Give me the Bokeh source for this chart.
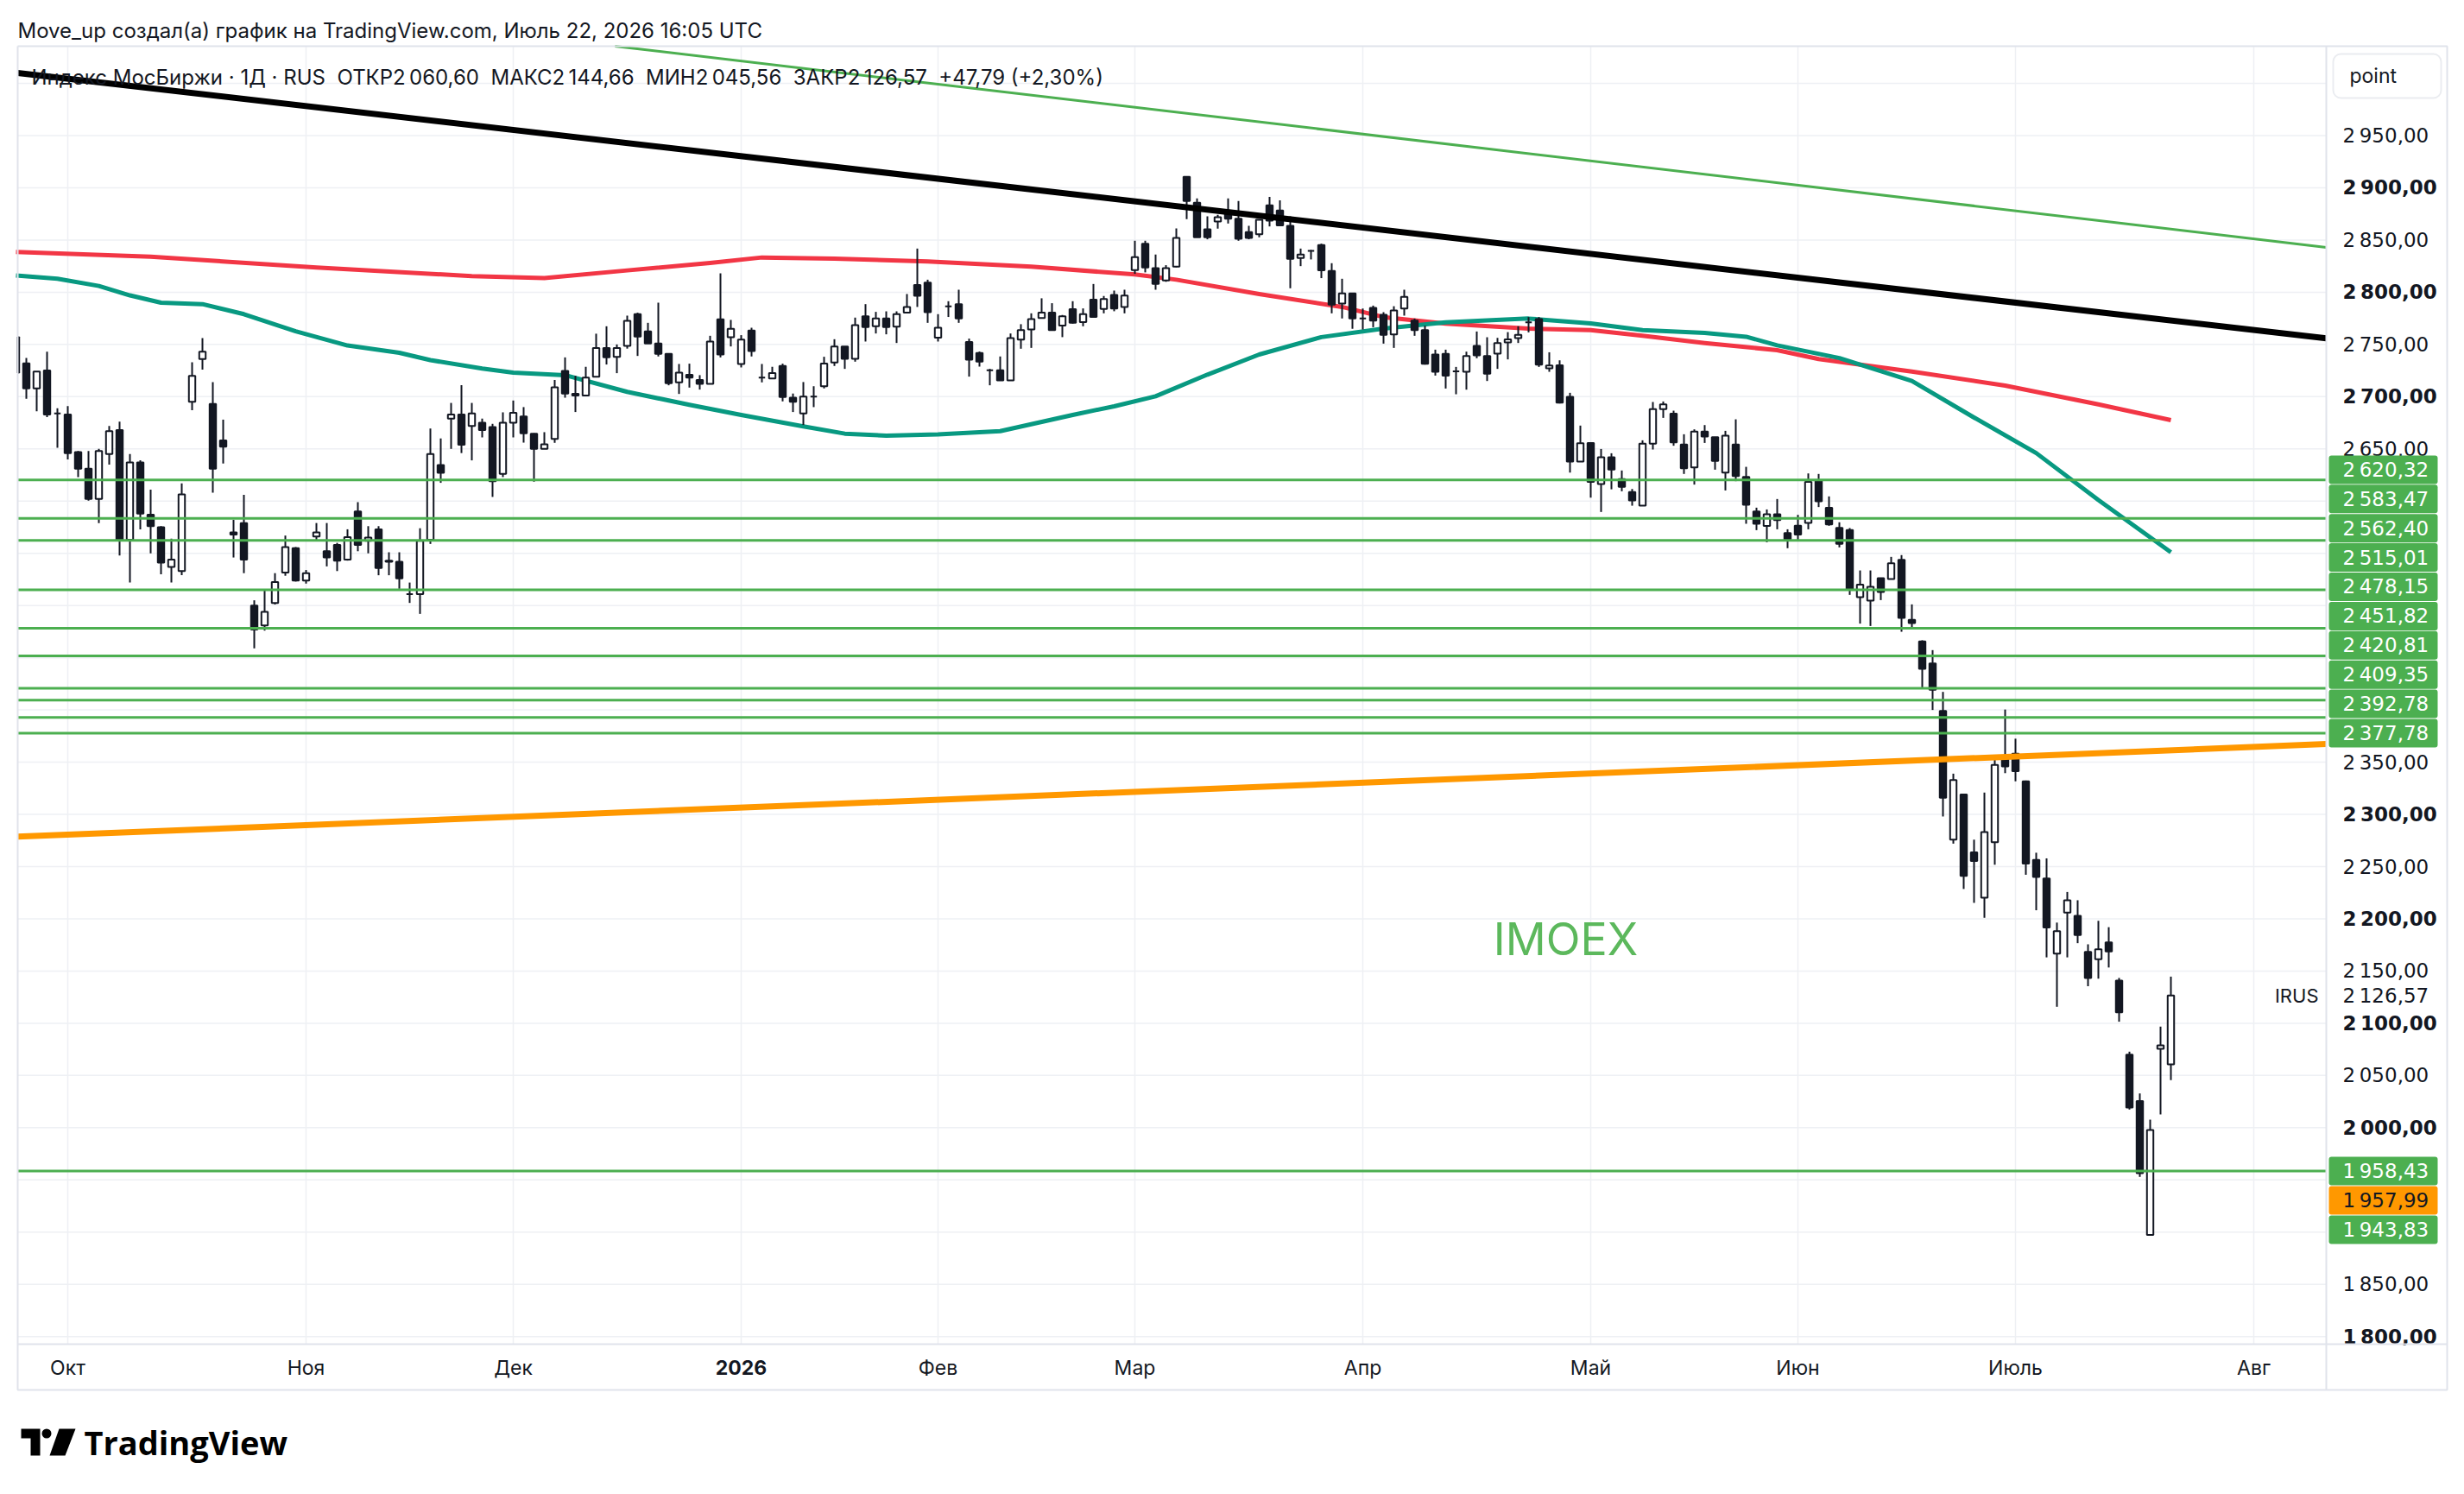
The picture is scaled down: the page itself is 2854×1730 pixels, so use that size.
import numpy as np
from bokeh.plotting import figure
from bokeh.models import Range1d
from bokeh.core.properties import value
from bokeh.embed import file_html
from bokeh.resources import INLINE

# ------------------------------------------------------------------ data
# daily candles (bar index 0 = 24 Sep 2025 ... 208 = 22 Jul 2026)
opens = [2757, 2732, 2708, 2725, 2684, 2683, 2647, 2631, 2602, 2645,
         2668, 2563, 2637, 2587, 2575, 2537, 2533, 2695, 2736, 2693,
         2658, 2570, 2579, 2500, 2481, 2502.5, 2531.5, 2555, 2524, 2566,
         2552, 2558, 2544, 2590, 2562, 2573, 2543, 2542, 2511, 2511,
         2563, 2634.5, 2679, 2683, 2672, 2675, 2671, 2626, 2675, 2681,
         2664.6, 2650, 2659.6, 2724.7, 2702.7, 2701, 2719, 2746.5, 2738, 2748.7,
         2779, 2762.5, 2750.9, 2741, 2713.7, 2721, 2716, 2712.3, 2774, 2757,
         2731.3, 2763.3, 2718.3, 2717.5, 2729.4, 2699, 2684, 2700, 2710, 2732.7,
         2748.1, 2736.3, 2777, 2767.4, 2774.9, 2767.1, 2780.4, 2807, 2809.3, 2756.4,
         2786.4, 2788.6, 2752.3, 2741.8, 2725.3, 2725.3, 2715.6, 2754.7, 2764.4, 2775.4,
         2780.4, 2768, 2783.7, 2771.3, 2792.8, 2784, 2797.5, 2785.9, 2821.2, 2846.5,
         2823.1, 2811.3, 2824.5, 2910.5, 2885.7, 2860.3, 2867.8, 2875.5, 2870.5, 2857.6,
         2855.6, 2883.2, 2878.2, 2863.6, 2832.7, 2839.6, 2845.2, 2820.3, 2789.2, 2798.8,
         2774.8, 2785, 2778.4, 2759.6, 2784.4, 2772.9, 2763.8, 2740.3, 2740.9, 2724.3,
         2723.8, 2748.6, 2739, 2741.2, 2751.9, 2756.1, 2771.2, 2774.2, 2727.1, 2730.1,
         2699.8, 2637.8, 2655.7, 2616.3, 2641.9, 2621, 2608.6, 2595.6, 2654.9, 2688,
         2683.8, 2654.1, 2632.3, 2666.5, 2661.2, 2627.3, 2654.1, 2623.2, 2590.1, 2576.3,
         2587.4, 2569.5, 2576.4, 2579.1, 2619.6, 2593.5, 2574.4, 2572.2, 2508, 2504.7,
         2526.2, 2525.4, 2543.8, 2486.2, 2465.6, 2444.6, 2399.1, 2275.9, 2319.1, 2263.6,
         2220.3, 2273.3, 2354.9, 2358.2, 2331.7, 2256.5, 2238.6, 2166.6, 2206, 2202.8,
         2168.4, 2161.3, 2177.4, 2140.9, 2070, 2025.6, 1897.4, 2075.5, 2060.6]
highs = [2762, 2737, 2724, 2743, 2689, 2691, 2648, 2648, 2650, 2672,
         2676, 2645, 2639, 2611, 2576, 2564, 2617, 2733, 2756, 2714,
         2678, 2582, 2606, 2505, 2515, 2531, 2567, 2556, 2534, 2579,
         2579, 2560, 2573, 2599, 2576, 2576, 2551, 2551, 2522, 2574,
         2669.5, 2660, 2694, 2711, 2694, 2679, 2674, 2685, 2696.3, 2690,
         2665, 2666, 2716, 2737.6, 2720, 2728.6, 2760.3, 2767.4, 2750, 2777.6,
         2780.4, 2770.7, 2790, 2741, 2731.3, 2731.6, 2720.6, 2758.3, 2818.1, 2773.5,
         2758.9, 2766, 2731.3, 2728.6, 2731.6, 2703, 2714, 2710, 2738.2, 2755,
         2748.1, 2775.7, 2788.6, 2781.2, 2781.7, 2781.7, 2798.3, 2841.8, 2812, 2779,
         2791.4, 2802.4, 2755.6, 2743.2, 2726.6, 2738.5, 2760.5, 2769.4, 2779.8, 2794.2,
         2789.5, 2778.2, 2791.4, 2784.5, 2807.9, 2796.4, 2801.6, 2802.4, 2849.3, 2849.3,
         2836.1, 2825.9, 2861.1, 2910.5, 2889.8, 2872.7, 2874.1, 2889.8, 2887.3, 2863.6,
         2869.4, 2891.2, 2887.9, 2872.7, 2841.8, 2840.5, 2846.5, 2827.8, 2812.9, 2798.8,
         2784.4, 2787.2, 2780.9, 2786.6, 2802.4, 2774.8, 2767.9, 2745, 2745, 2728.5,
         2743.1, 2762.4, 2756.9, 2756.3, 2761.8, 2767.4, 2776.2, 2776.2, 2742.5, 2734.8,
         2703.7, 2672.3, 2655.7, 2649.9, 2645.8, 2629.3, 2611.6, 2658.2, 2694.9, 2695.4,
         2686.6, 2664, 2668.7, 2672.8, 2661.2, 2667.3, 2678.3, 2632.8, 2593.7, 2592,
         2602, 2573, 2586.8, 2626.5, 2626, 2604.5, 2579.7, 2574.2, 2533.6, 2533.6,
         2526.2, 2546.6, 2548.3, 2501.1, 2466.7, 2457.3, 2417.3, 2339, 2319.1, 2275.8,
         2320.9, 2356.7, 2400.4, 2372.5, 2332.4, 2263.3, 2257.9, 2196.4, 2225.7, 2217.8,
         2175.6, 2198.1, 2192, 2143.4, 2072.8, 2032.8, 2007.7, 2096.8, 2144.66]
lows = [2718, 2698, 2686, 2680.5, 2651, 2640, 2623, 2600.5, 2579, 2635,
        2548, 2522, 2573, 2550, 2530, 2522, 2529, 2687, 2726, 2608,
        2636, 2546, 2531, 2459, 2476, 2501, 2528.5, 2523, 2521, 2562,
        2537.5, 2533, 2543, 2552, 2550, 2529, 2529, 2516, 2502.5, 2492,
        2559, 2617.5, 2650, 2646, 2639, 2661, 2604, 2623, 2661, 2656,
        2618.6, 2650, 2655.8, 2699, 2685.3, 2700.5, 2719, 2730.8, 2722.5, 2746,
        2739, 2750.9, 2738.5, 2710.9, 2702.6, 2708.7, 2706.8, 2712.3, 2737.6, 2748.1,
        2728, 2738.5, 2713.7, 2717.5, 2695.5, 2685.3, 2672.9, 2690, 2707.9, 2729.4,
        2726.6, 2733.5, 2752.8, 2760.5, 2759.7, 2751.4, 2780.4, 2785.9, 2770.7, 2752.8,
        2776.3, 2770.7, 2719.2, 2728.8, 2710.9, 2715.6, 2715.6, 2745.9, 2746.7, 2775.4,
        2763.8, 2757, 2770, 2767.4, 2776.3, 2779.8, 2781.8, 2779.8, 2817.6, 2819,
        2802.4, 2810, 2823.9, 2870, 2852.6, 2850.7, 2860.9, 2865.8, 2849.3, 2850.7,
        2852.6, 2863, 2863.9, 2803.8, 2825, 2831.4, 2813.5, 2779.8, 2774.9, 2765,
        2764.3, 2766.5, 2750.8, 2746.7, 2777.6, 2758.3, 2730.7, 2720.2, 2707.8, 2702.3,
        2706.7, 2736.8, 2715, 2726.6, 2735.7, 2751.4, 2761.6, 2728.5, 2723.8, 2693.5,
        2627.3, 2637.8, 2603.3, 2589.6, 2611.3, 2609.4, 2595.6, 2595.6, 2649.4, 2679.7,
        2653, 2626, 2615.8, 2655.7, 2630.1, 2610.2, 2619.1, 2578.3, 2572.2, 2560.6,
        2573, 2554.9, 2562, 2573, 2594.3, 2576.4, 2555.7, 2510.2, 2482.7, 2480.4,
        2505.2, 2525.4, 2474.9, 2477.7, 2421.4, 2400, 2298, 2272, 2228.6, 2215.3,
        2201, 2251.8, 2339.5, 2331.7, 2242.2, 2208.2, 2163.1, 2115.8, 2163.1, 2176.7,
        2135.5, 2142.7, 2153.4, 2101.5, 2017.4, 1952.9, 1897.4, 2012.7, 2045.56]
closes = [2723, 2708, 2724, 2683, 2684, 2646, 2631, 2602, 2648, 2667,
          2563, 2637, 2588, 2576, 2541, 2544, 2606.5, 2720, 2743, 2631,
          2652, 2568, 2544, 2477, 2494, 2522.5, 2556, 2524, 2531, 2570,
          2546, 2543, 2565.5, 2558, 2565, 2536, 2542, 2526, 2511, 2562,
          2645, 2627, 2683, 2654, 2684, 2668, 2619, 2675, 2684.5, 2665,
          2650, 2654.4, 2709, 2703, 2701, 2718.3, 2746.5, 2737.6, 2746.5, 2772.7,
          2757.5, 2750.9, 2741, 2712.8, 2723, 2718.3, 2712.3, 2752.8, 2740.4, 2764.9,
          2754.7, 2743.7, 2718.3, 2722.5, 2699.6, 2695, 2700, 2700, 2731.6, 2748.1,
          2736.3, 2768.5, 2766.6, 2774.9, 2766.6, 2779, 2785.9, 2796.6, 2780.9, 2766,
          2786.4, 2774.9, 2735.5, 2733.5, 2725.3, 2715.6, 2756.1, 2763.8, 2774.3, 2780.4,
          2763.8, 2777, 2770.7, 2779, 2776.3, 2793.6, 2784.5, 2796.9, 2833.6, 2823.7,
          2808, 2823.1, 2852, 2887.3, 2852.6, 2852.6, 2871.9, 2870.5, 2851.2, 2852,
          2869.4, 2868.6, 2863.9, 2831.9, 2836.1, 2839.6, 2820.9, 2788.1, 2798.9, 2774.8,
          2774.8, 2772.9, 2759.1, 2782.5, 2795.5, 2763.8, 2731.5, 2723.8, 2720.2, 2724.3,
          2739, 2739.5, 2721.9, 2751.4, 2754.9, 2759.1, 2771.2, 2730.7, 2729.9, 2694.3,
          2637.8, 2655.4, 2618.5, 2641.9, 2630.1, 2613.6, 2600.6, 2654.9, 2688, 2692.7,
          2656.3, 2631.5, 2666.5, 2661.8, 2638.4, 2662.6, 2624, 2596.5, 2578.3, 2587.4,
          2581.9, 2563.4, 2568, 2618.3, 2599.8, 2577.7, 2559, 2515.2, 2519.9, 2517.9,
          2513, 2540.5, 2488.2, 2483.2, 2439.4, 2419.3, 2316, 2333, 2241.1, 2255.4,
          2283, 2347.4, 2346, 2341.3, 2252.9, 2240, 2191.7, 2188.1, 2217.8, 2184.5,
          2143.4, 2170.9, 2168.8, 2110.4, 2019.2, 1956.5, 1997.7, 2078.78, 2126.57]

# moving averages (sampled along the bar axis)
ma_red_x = [0, 13, 29, 44, 51, 59, 67, 72, 79, 88, 98, 108, 112, 120, 128, 132,
            138, 146, 152, 157, 163, 170, 174, 183, 192, 201, 208]
ma_red_y = [2838.6, 2834, 2823.6, 2815.5, 2813.5, 2820.9, 2828, 2833.3, 2832.2,
            2829.4, 2824.5, 2817, 2812, 2798.3, 2785.9, 2776.2, 2770, 2765.1,
            2763.8, 2758.3, 2751.4, 2744.5, 2736, 2724, 2710.6, 2692.6, 2677.5]
ma_teal_x = [0, 4, 8, 11, 14, 18, 22, 27, 32, 37, 40, 45, 48, 53, 59, 65, 70, 76,
             80, 84, 89, 95, 102, 106, 110, 115, 120, 126, 132, 138, 146, 152, 157,
             163, 167, 170, 176, 183, 189, 195, 201, 208]
ma_teal_y = [2816, 2813, 2806, 2797, 2790, 2788.6, 2779, 2762.6, 2749, 2742, 2735,
             2727, 2723, 2720.6, 2704.6, 2692.2, 2682.5, 2671.5, 2664.6, 2662.7,
             2663.8, 2667, 2682.5, 2690.8, 2700.4, 2721.1, 2740.4, 2757, 2765.1,
             2771.2, 2774.8, 2770.1, 2763.8, 2761, 2757.4, 2749.2, 2737, 2715, 2680,
             2646, 2601, 2551]

# trend lines (two anchors each: bar index, price)
trend_black_x, trend_black_y = [0, 223], [3010.2, 2755.8]
trend_green_x, trend_green_y = [58.75, 223], [3034.5, 2843.0]
trend_orange_x, trend_orange_y = [0, 223], [2278.6, 2367.4]

# horizontal levels
levels_upper = [2620.32, 2583.47, 2562.40, 2515.01, 2478.15, 2451.82,
                2420.81, 2409.35, 2392.78, 2377.78]
levels_lower_drawn = [1958.43]
tags_lower = [1958.43, 1957.99, 1943.83]
tags_lower_colors = ["#4caf50", "#ff9800", "#4caf50"]

# axes
month_labels = ["Окт", "Ноя", "Дек", "2026", "Фев", "Мар", "Апр", "Май", "Июн", "Июль", "Авг"]
month_bars = [5, 28, 48, 70, 89, 108, 130, 152, 172, 193, 216]
grid_prices = list(range(1800, 3001, 50))
price_labels_shown = [2950, 2900, 2850, 2800, 2750, 2700, 2650, 2350, 2300, 2250,
                      2200, 2150, 2100, 2050, 2000, 1850, 1800]

# ------------------------------------------------------------------ layout helpers
W, H = 2854, 1730
BAR0_PX, BAR_PX = 18.0, 12.0
REF_PRICE, REF_PY, PX_PER_PT = 2950.0, 156.5, 1.2093


def bx(px):
    return (px - BAR0_PX) / BAR_PX


def py(ypx):
    return REF_PRICE - (ypx - REF_PY) / PX_PER_PT


def ypx(price):
    return REF_PY + (REF_PRICE - price) * PX_PER_PT


CL, CR, CT, CB = bx(20), bx(2694), py(53), py(1556)
OR_, OB = bx(2834), py(1609)

INK = "#131722"
GRID = "#eef0f4"
BORDER = "#e0e3eb"
GREEN = "#4caf50"


def fmt(v):
    return f"{v:,.2f}".replace(",", "\u202f").replace(".", ",")


def rounded(renderer, r):
    if hasattr(renderer.glyph, "border_radius"):
        renderer.glyph.border_radius = r


p = figure(width=W, height=H, x_range=Range1d(bx(0), bx(W)), y_range=Range1d(py(H), py(0)),
           output_backend="svg", toolbar_location=None, title=None,
           x_axis_location=None, y_axis_location=None, min_border=0)
p.outline_line_color = None
p.grid.visible = False
p.background_fill_color = "white"
p.border_fill_color = "white"


def txt(x, y, t, size, color=INK, font="Inter", style="normal", align="left", baseline="middle"):
    p.text(x=[x], y=[y], text=[t], text_font=value(font), text_font_size=size,
           text_color=color, text_font_style=style, text_align=align, text_baseline=baseline)


# grid
gx = [m for m in month_bars if CL <= m <= CR]
p.segment(x0=gx, x1=gx, y0=CB, y1=CT, line_color=GRID, line_width=1.5)
gy = [g for g in grid_prices if CB <= g <= CT]
p.segment(x0=CL, x1=CR, y0=gy, y1=gy, line_color=GRID, line_width=1.5)

# moving averages
p.line(ma_red_x, ma_red_y, line_color="#f23645", line_width=5, line_join="round")
p.line(ma_teal_x, ma_teal_y, line_color="#089981", line_width=5, line_join="round")

# candles
o = np.array(opens, float); h = np.array(highs, float)
l = np.array(lows, float); c = np.array(closes, float)
idx = np.arange(len(c))
vis = idx >= CL
p.segment(x0=idx[vis], x1=idx[vis], y0=l[vis], y1=h[vis], line_color=INK, line_width=2)
half = 0.31
p.quad(left=np.maximum(idx - half, CL), right=idx + half,
       bottom=np.minimum(o, c), top=np.maximum(o, c),
       fill_color=["white" if cc >= oo else INK for oo, cc in zip(o, c)],
       line_color=INK, line_width=2)

# horizontal levels
lv = levels_upper + levels_lower_drawn
p.segment(x0=CL, x1=CR, y0=lv, y1=lv, line_color=GREEN, line_width=3)


def clip_line(xa, ya, xb, yb):
    k = (yb - ya) / (xb - xa)
    x0, x1 = CL, CR
    y0, y1 = ya + k * (x0 - xa), ya + k * (x1 - xa)
    if y0 > CT:
        x0, y0 = xa + (CT - ya) / k, CT
    if y1 > CT:
        x1, y1 = xa + (CT - ya) / k, CT
    return [x0, x1], [y0, y1]


for xs, ys, col, w in [(trend_green_x, trend_green_y, GREEN, 3),
                       (trend_black_x, trend_black_y, "#000000", 7),
                       (trend_orange_x, trend_orange_y, "#ff9800", 7)]:
    lx, ly = clip_line(xs[0], ys[0], xs[1], ys[1])
    p.line(lx, ly, line_color=col, line_width=w)

# IMOEX text drawing
txt(bx(1813), py(1087), "IMOEX", "52px", color="#5cb85c", align="center")

# ------------------------------------------------------------------ price scale
reg = [v for v in price_labels_shown if v % 100 != 0]
bold = [v for v in price_labels_shown if v % 100 == 0]
p.text(x=bx(2713), y=reg, text=[fmt(v) for v in reg], text_font=value("DejaVu Sans"),
       text_font_size="23px", text_color=INK, text_align="left", text_baseline="middle")
p.text(x=bx(2713), y=bold, text=[fmt(v) for v in bold], text_font=value("DejaVu Sans"),
       text_font_size="23px", text_font_style="bold", text_color=INK,
       text_align="left", text_baseline="middle")

# stacked green tags (upper group, stacked upward from the lowest level)
TAG_PITCH, TAG_H = 33.9, 33.0
up_sorted = sorted(levels_upper)
up_cy = [ypx(up_sorted[0]) - i * TAG_PITCH for i in range(len(up_sorted))]
r = p.quad(left=bx(2697), right=bx(2823), bottom=[py(y + TAG_H / 2) for y in up_cy],
           top=[py(y - TAG_H / 2) for y in up_cy], fill_color=GREEN, line_color=None)
rounded(r, 3)
p.text(x=bx(2713), y=[py(y) for y in up_cy], text=[fmt(v) for v in up_sorted],
       text_font=value("DejaVu Sans"), text_font_size="23px", text_color="white",
       text_align="left", text_baseline="middle")

low_cy = [ypx(tags_lower[0]) + i * TAG_PITCH for i in range(len(tags_lower))]
r = p.quad(left=bx(2697), right=bx(2823), bottom=[py(y + TAG_H / 2) for y in low_cy],
           top=[py(y - TAG_H / 2) for y in low_cy], fill_color=tags_lower_colors, line_color=None)
rounded(r, 3)
p.text(x=bx(2713), y=[py(y) for y in low_cy], text=[fmt(v) for v in tags_lower],
       text_font=value("DejaVu Sans"), text_font_size="23px",
       text_color=["white" if col == GREEN else INK for col in tags_lower_colors],
       text_align="left", text_baseline="middle")

# last price
txt(bx(2713), closes[-1], fmt(closes[-1]), "23px", font="DejaVu Sans")
txt(bx(2685), closes[-1], "IRUS", "22px", align="right")

# "point" button
r = p.quad(left=bx(2702), right=bx(2827), top=py(62), bottom=py(113), fill_color="white",
           line_color="#eaecf0", line_width=2)
rounded(r, 9)
txt(bx(2721), py(87.5), "point", "23px", align="left")

# hide part of lowest label below the time scale
p.quad(left=bx(2696), right=bx(2833), top=py(1557.5), bottom=py(1608), fill_color="white",
       line_color=None)

# time scale
p.text(x=[m for m, t in zip(month_bars, month_labels) if t != "2026"], y=py(1583),
       text=[t for t in month_labels if t != "2026"], text_font=value("Inter"),
       text_font_size="23px", text_color=INK, text_align="center", text_baseline="middle")
p.text(x=[m for m, t in zip(month_bars, month_labels) if t == "2026"], y=py(1583),
       text=["2026"], text_font=value("Inter"), text_font_size="23px",
       text_font_style="bold", text_color=INK, text_align="center", text_baseline="middle")

# frame borders
p.multi_line(xs=[[CL, OR_, OR_, CL, CL], [CR, CR], [CL, OR_]],
             ys=[[CT, CT, OB, OB, CT], [CT, OB], [CB, CB]],
             line_color=BORDER, line_width=2)

# ------------------------------------------------------------------ header / footer
txt(bx(20), py(35), "Move_up создал(а) график на TradingView.com, Июль 22, 2026 16:05 UTC", "24px")
chg = closes[-1] - closes[-2]
pct = chg / closes[-2] * 100
gap = "\u00a0\u00a0"
legend = ("Индекс МосБиржи · 1Д · RUS" + gap + "ОТКР" + fmt(opens[-1]) + gap + "МАКС" + fmt(highs[-1])
          + gap + "МИН" + fmt(lows[-1]) + gap + "ЗАКР" + fmt(closes[-1]) + gap
          + f"{chg:+.2f}".replace(".", ",") + f" ({pct:+.2f}%)".replace(".", ","))
txt(bx(36), py(89), legend, "24px")

# TradingView logo
logo_1 = [(24, 1654), (46, 1654), (46, 1685), (35, 1685), (35, 1665), (24, 1665)]
logo_7 = [(68, 1654), (87, 1654), (75, 1685), (57, 1685)]
p.patches(xs=[[bx(a) for a, b in logo_1], [bx(a) for a, b in logo_7]],
          ys=[[py(b) for a, b in logo_1], [py(b) for a, b in logo_7]],
          fill_color="#000000", line_color=None)
p.scatter(x=[bx(53.5)], y=[py(1659.5)], size=11, marker="circle", fill_color="#000000",
          line_color=None)
txt(bx(97), py(1669), "TradingView", "38px", color="#000000", font="Open Sans", style="bold")

open("out.html", "w").write(file_html(p, INLINE))
